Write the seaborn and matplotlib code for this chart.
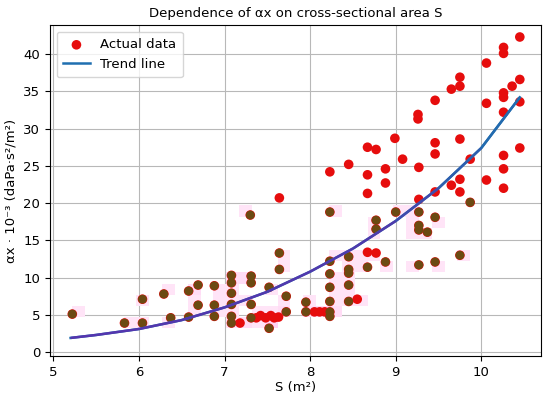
import numpy as np
import pandas as pd
import matplotlib
matplotlib.use("Agg")
import matplotlib.pyplot as plt
import seaborn as sns
from matplotlib.collections import LineCollection
from matplotlib.colors import LinearSegmentedColormap, Normalize

# ---- data ----
S_red = [7.18, 7.37, 7.42, 7.48, 7.54, 7.58, 7.63, 8.05, 8.11, 8.17, 8.55, 8.67, 8.77,
         7.64, 9.27, 8.23, 8.45, 8.67, 8.88, 8.88, 8.67, 8.67, 8.77, 8.99, 9.08, 9.27,
         9.46, 9.65, 9.75, 9.75, 10.06, 10.26, 10.26, 9.46, 9.46, 9.75, 9.87, 10.45,
         10.26, 9.26, 9.26, 9.46, 9.65, 9.75, 9.75, 10.06, 10.06, 10.26, 10.26, 10.26,
         10.26, 10.26, 10.36, 10.45, 10.45, 10.45]
ax_red = [3.9, 4.6, 4.9, 4.6, 4.9, 4.6, 4.7, 5.4, 5.4, 5.4, 7.1, 13.4, 13.3,
          20.7, 20.5, 24.2, 25.2, 23.8, 24.6, 22.7, 21.3, 27.5, 27.2, 28.7, 25.9, 24.8,
          21.5, 22.4, 23.2, 21.5, 23.1, 22.0, 24.6, 28.1, 26.6, 28.6, 25.9, 27.4,
          26.4, 31.9, 31.3, 33.8, 35.3, 36.9, 35.7, 38.8, 33.4, 40.9, 40.1, 34.8,
          34.2, 32.2, 35.7, 36.6, 33.6, 42.3]

S_brown = [5.22, 5.83, 6.04, 6.04, 6.29, 6.37, 6.58, 6.58, 6.69, 6.69, 6.88, 6.88, 6.88,
           7.08, 7.08, 7.08, 7.08, 7.08, 7.08, 7.31, 7.31, 7.31, 7.31, 7.52, 7.52,
           7.64, 7.64, 7.72, 7.72, 7.95, 7.95, 8.23, 8.23, 8.23, 8.23, 8.23, 8.23,
           8.45, 8.45, 8.45, 8.45, 8.45, 8.67, 8.88, 9.27, 9.46, 9.75,
           7.30, 8.23, 8.77, 8.77, 9.00, 9.27, 9.46, 9.27, 9.27, 9.37, 9.87]
ax_brown = [5.1, 3.9, 7.1, 3.9, 7.8, 4.6, 8.2, 4.7, 9.0, 6.3, 8.9, 6.3, 4.8,
            10.3, 9.3, 7.9, 6.4, 4.8, 3.9, 10.2, 9.3, 6.4, 4.6, 8.7, 3.2,
            13.3, 11.1, 7.5, 5.4, 6.7, 5.4, 12.2, 10.5, 8.7, 6.8, 5.4, 4.8,
            12.8, 11.1, 10.6, 9.0, 6.8, 11.4, 12.1, 11.7, 12.1, 13.0,
            18.4, 18.8, 17.7, 16.5, 18.8, 18.8, 18.1, 17.0, 16.4, 16.1, 20.1]

S_trend = [5.2, 5.5, 6.0, 6.5, 7.0, 7.5, 8.0, 8.5, 9.0, 9.5, 10.0, 10.45]
ax_trend = [1.9, 2.3, 3.1, 4.3, 6.0, 8.1, 10.8, 13.9, 17.6, 22.0, 27.4, 34.2]

x_ticks = [5, 6, 7, 8, 9, 10]
y_ticks = [0, 5, 10, 15, 20, 25, 30, 35, 40]

# ---- build frames ----
df_all = pd.DataFrame({"S": S_red + S_brown, "ax": ax_red + ax_brown})
df_brown = pd.DataFrame({"S": S_brown, "ax": ax_brown})
df_hist = df_all[df_all["ax"] < 20]
df_trend = pd.DataFrame({"S": S_trend, "ax": ax_trend})

fig = plt.figure(figsize=(5.5, 3.98), dpi=100)
ax = fig.add_axes([0.091, 0.106, 0.893, 0.831])

pink = LinearSegmentedColormap.from_list("pk", ["#ffe4f7", "#ffc4ef"])
sns.histplot(data=df_hist, x="S", y="ax", binwidth=(0.15, 1.5), cmap=pink,
             vmin=1, vmax=5, ax=ax, zorder=1)

sns.scatterplot(data=df_all, x="S", y="ax", color="#e60d0d", s=48, edgecolor="none",
                label="Actual data", ax=ax, zorder=3)
sns.scatterplot(data=df_brown, x="S", y="ax", color="#6b4a12", s=40, edgecolor="none",
                ax=ax, zorder=4)

sns.lineplot(data=df_trend, x="S", y="ax", color="#1f6fb0", linewidth=1.8,
             label="Trend line", ax=ax, zorder=5)
# colour gradient of the trend line (purple -> blue)
pts = np.column_stack([S_trend, ax_trend])
segs = np.stack([pts[:-1], pts[1:]], axis=1)
mids = (pts[:-1, 0] + pts[1:, 0]) / 2
grad = LinearSegmentedColormap.from_list(
    "gr", [(0.0, "#5534ae"), (0.70, "#4f3aac"), (0.85, "#2f5cae"), (1.0, "#1f70b0")])
lc = LineCollection(segs, cmap=grad, norm=Normalize(5.2, 10.45), linewidth=1.8, zorder=6)
lc.set_array(mids)
ax.add_collection(lc)

ax.set_xlim(4.96, 10.70)
ax.set_ylim(-0.5, 43.9)
ax.set_xticks(x_ticks)
ax.set_yticks(y_ticks)
ax.grid(True, color="#b8b8b8", linewidth=0.8)
ax.set_axisbelow(True)
ax.set_title("Dependence of αx on cross-sectional area S", fontsize=9.5)
ax.set_xlabel("S (m²)", fontsize=9.5, labelpad=2)
ax.set_ylabel("αx · 10⁻³ (daPa·s²/m²)", fontsize=9.5)
ax.tick_params(labelsize=9.5)
ax.legend(loc="upper left", fontsize=9.5, framealpha=0.8, borderpad=0.5)

fig.savefig("out.png", dpi=100)
